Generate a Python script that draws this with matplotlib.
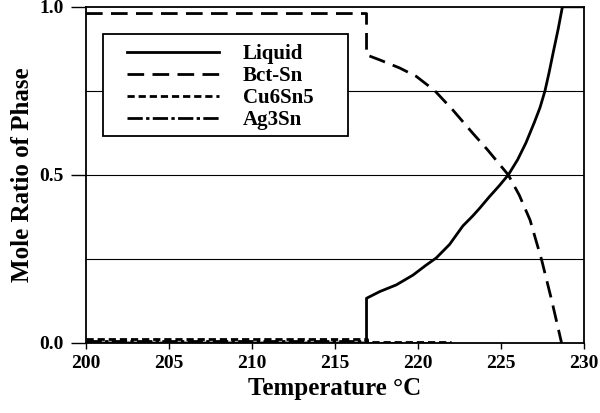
import numpy as np
import matplotlib.pyplot as plt
from matplotlib.patches import Rectangle

# Liquid phase fraction vs temperature
liq_T = [200, 216.9, 216.9, 217.7, 218.7, 219.7, 220.5, 221.1, 221.9, 222.7,
         223.3, 223.7, 224.3, 224.9, 225.44, 226.0, 226.5, 227.0, 227.35,
         227.65, 227.9, 228.15, 228.45, 228.7, 230]
liq_y = [0.0, 0.0, 0.133, 0.153, 0.173, 0.202, 0.232, 0.253, 0.293, 0.348,
         0.378, 0.40, 0.435, 0.468, 0.5, 0.545, 0.595, 0.655, 0.70,
         0.75, 0.805, 0.865, 0.935, 1.0, 1.0]

# Bct-Sn
bct_T = [200, 216.9, 216.9, 217.7, 218.9, 219.9, 221.0, 222.1, 223.3, 224.2,
         225.44, 226.1, 226.75, 227.45, 228.05, 228.65]
bct_y = [0.98, 0.98, 0.857, 0.842, 0.818, 0.793, 0.751, 0.693, 0.624, 0.574,
         0.5, 0.44, 0.366, 0.247, 0.128, 0.0]

# Cu6Sn5
cu_T = [200, 216.9, 216.9, 222]
cu_y = [0.012, 0.012, 0.004, 0.004]

# Ag3Sn
ag_T = [200, 216.9, 216.9, 222]
ag_y = [0.006, 0.006, 0.0, 0.0]

xticks = [200, 205, 210, 215, 220, 225, 230]
yticks = [0.0, 0.5, 1.0]
grid_y = [0.25, 0.5, 0.75]

plt.rcParams['font.family'] = ['Liberation Serif', 'DejaVu Serif']
plt.rcParams['font.weight'] = 'bold'

fig = plt.figure(figsize=(6, 4.13), dpi=100)
ax = fig.add_axes([0.1433, 0.1695, 0.83, 0.814])

for g in grid_y:
    ax.axhline(g, color='black', lw=0.8, zorder=1)

ax.plot(liq_T, liq_y, color='black', lw=2, ls='-', label='Liquid', zorder=3)
ax.plot(bct_T, bct_y, color='black', lw=2, ls=(0, (6, 3)), label='Bct-Sn', zorder=3)
ax.plot(cu_T, cu_y, color='black', lw=2, ls=(0, (2.6, 1.4)), label='Cu6Sn5', zorder=3)
ax.plot(ag_T, ag_y, color='black', lw=2, ls=(0, (5.5, 1.2, 1.2, 1.2)), label='Ag3Sn', zorder=3)

ax.set_xlim(200, 230)
ax.set_ylim(0, 1.0)
ax.set_xticks(xticks)
ax.set_yticks(yticks)
ax.set_yticklabels(['0.0', '0.5', '1.0'])
ax.tick_params(axis='y', direction='out', length=11, width=1, labelsize=14, pad=5)
ax.tick_params(axis='x', direction='out', length=4, width=1, labelsize=14, pad=5)
for lab in ax.get_xticklabels() + ax.get_yticklabels():
    lab.set_fontweight('bold')
for s in ax.spines.values():
    s.set_linewidth(1.3)

ax.set_xlabel('Temperature °C', fontsize=18, fontweight='bold', labelpad=3)
ax.set_ylabel('Mole Ratio of Phase', fontsize=18, fontweight='bold', labelpad=4)

# legend box drawn separately so the inner padding can match
box = Rectangle((0.034, 0.616), 0.492, 0.3036, transform=ax.transAxes,
                facecolor='white', edgecolor='black', lw=1.3, zorder=4)
ax.add_patch(box)
leg = ax.legend(loc='upper left', bbox_to_anchor=(0.0823, 0.889), handlelength=4.4,
                handletextpad=1.15, labelspacing=0.1, fontsize=15, frameon=False,
                borderpad=0, borderaxespad=0)
leg.set_zorder(5)
for t in leg.get_texts():
    t.set_fontweight('bold')

fig.savefig('out.png', dpi=100)
